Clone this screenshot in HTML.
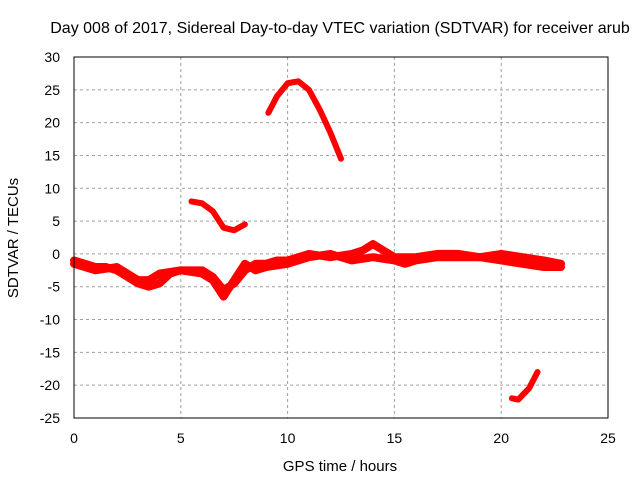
<!DOCTYPE html>
<html><head><meta charset="utf-8"><style>
body{margin:0;background:#fff}
svg text{font-family:"Liberation Sans",sans-serif;font-size:14px;fill:#000}
</style></head><body>
<svg id="chart" width="640" height="480" xmlns="http://www.w3.org/2000/svg">
<text x="340" y="33" text-anchor="middle" style="font-size:16px">Day 008 of 2017, Sidereal Day-to-day VTEC variation (SDTVAR) for receiver arub</text>
<text x="340" y="471" text-anchor="middle" style="font-size:15px">GPS time / hours</text>
<text transform="translate(18,238) rotate(-90)" text-anchor="middle" style="font-size:15px">SDTVAR / TECUs</text>
<g id="grid"></g>
<g id="series"></g>
<rect x="74" y="57" width="534" height="361" fill="none" stroke="#000" stroke-width="1"/>
</svg>
<script>
const xTicks=[0,5,10,15,20,25];
const yTicks=[30,25,20,15,10,5,0,-5,-10,-15,-20,-25];
const bandAx=[0,0.5,1,1.5,2,2.5,3,3.5,4,4.5,5,5.5,6,6.5,7,7.5,8,8.5,9,9.5,10,10.5,11,12,13,13.5,14,14.5,15,16,17,18,19,20,21,22,22.8];
const bandAy=[-1,-1.5,-2,-2,-2.5,-3.5,-4.5,-5,-4.5,-3,-2.5,-2.5,-2.5,-3.5,-5.5,-4.5,-2.5,-1.5,-1.5,-1,-1,-0.5,0,-0.5,0,0.5,1.5,0.5,-0.5,-0.5,0,0,-0.5,0,-0.5,-1,-1.5];
const bandBx=[0,1,2,3,3.5,4,5,6,6.5,7,7.5,8,8.5,9,10,11,12,13,14,15,15.5,16,17,18,19,20,21,22,22.8];
const bandBy=[-1.5,-2.5,-2,-4,-4,-3,-2.5,-3,-4,-6.5,-4,-1.5,-2.5,-2,-1.5,-0.5,0,-1,-0.5,-1,-1.5,-1,-0.5,-0.5,-0.5,-1,-1.5,-2,-2];
const seg1x=[5.5,6,6.5,7,7.5,8];
const seg1y=[8,7.7,6.5,4,3.6,4.5];
const seg2x=[9.1,9.5,10,10.5,11,11.5,12,12.5];
const seg2y=[21.5,24,26,26.3,25,22,18.5,14.5];
const seg3x=[20.5,20.8,21,21.3,21.7];
const seg3y=[-22,-22.2,-21.5,-20.5,-18];
const X=v=>74+v*(534/25);
const Y=v=>57+(30-v)*(361/55);
const NS="http://www.w3.org/2000/svg";
const svg=document.getElementById('chart'),grid=document.getElementById('grid'),ser=document.getElementById('series');
function mk(t,a,p){const e=document.createElementNS(NS,t);for(const k in a)e.setAttribute(k,a[k]);p.appendChild(e);return e;}
xTicks.forEach(t=>{
  if(t>0&&t<25){const l=mk('line',{x1:X(t),x2:X(t),y1:57,y2:418,stroke:'#a0a0a0','stroke-dasharray':'3,3'},grid);
  
  }
  const tx=mk('text',{x:X(t),y:443,'text-anchor':'middle'},svg);tx.textContent=t;
  
  
});
yTicks.forEach(t=>{
  if(t<30&&t>-25){const l=mk('line',{x1:74,x2:608,y1:Y(t),y2:Y(t),stroke:'#a0a0a0','stroke-dasharray':'3,3'},grid);
  
  }
  const tx=mk('text',{x:60,y:Y(t)+5,'text-anchor':'end'},svg);tx.textContent=t;
  
  
});
function line(xs,ys,name,w){
  const pts=xs.map((x,i)=>X(x)+','+Y(ys[i])).join(' ');
  const p=mk('polyline',{points:pts,fill:'none',stroke:'#ff0000','stroke-width':w,'stroke-linejoin':'round','stroke-linecap':'round'},ser);
  
  
}
line(bandAx,bandAy,'series-band-a',8);
line(bandBx,bandBy,'series-band-b',8);
line(seg1x,seg1y,'series-segment-1',6);
line(seg2x,seg2y,'series-segment-2',6);
line(seg3x,seg3y,'series-segment-3',6);
</script>
</body></html>
